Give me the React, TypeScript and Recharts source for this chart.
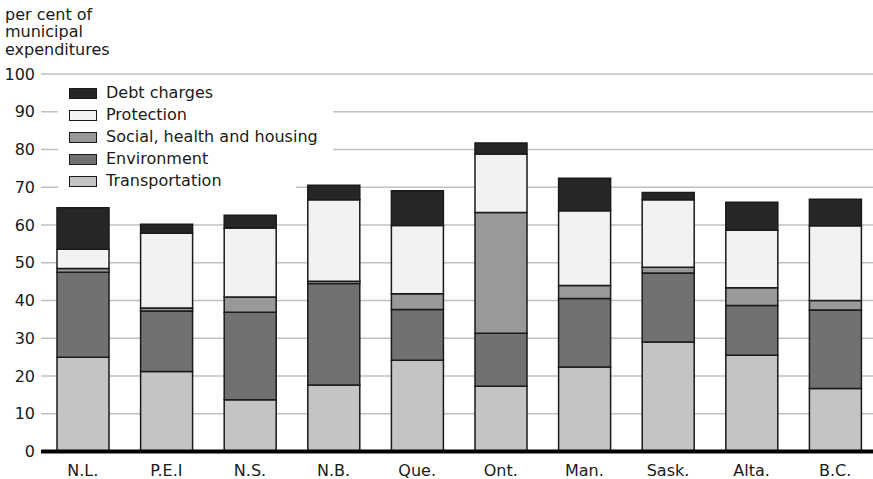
import React from 'react';
import { BarChart, Bar, XAxis, YAxis, CartesianGrid } from 'recharts';

const categories = ['N.L.', 'P.E.I', 'N.S.', 'N.B.', 'Que.', 'Ont.', 'Man.', 'Sask.', 'Alta.', 'B.C.'];
const transportation = [25.0, 21.2, 13.7, 17.6, 24.2, 17.3, 22.4, 29.0, 25.5, 16.7];
const environment = [22.5, 16.0, 23.2, 26.9, 13.4, 14.0, 18.1, 18.3, 13.2, 20.8];
const social = [1.0, 0.8, 4.0, 0.6, 4.2, 32.0, 3.5, 1.5, 4.7, 2.5];
const protection = [5.1, 19.8, 18.3, 21.6, 18.1, 15.5, 19.8, 17.9, 15.2, 19.8];
const debt = [11.0, 2.4, 3.4, 3.8, 9.2, 2.9, 8.6, 1.9, 7.4, 7.0];
const yTicks = [0, 10, 20, 30, 40, 50, 60, 70, 80, 90, 100];
const titleLines = ['per cent of', 'municipal', 'expenditures'];

const series = [
  { key: 'transportation', name: 'Transportation', color: '#c4c4c4' },
  { key: 'environment', name: 'Environment', color: '#717171' },
  { key: 'social', name: 'Social, health and housing', color: '#999999' },
  { key: 'protection', name: 'Protection', color: '#f2f2f2' },
  { key: 'debt', name: 'Debt charges', color: '#262626' },
];

const data = categories.map((c, i) => ({
  name: c,
  transportation: transportation[i],
  environment: environment[i],
  social: social[i],
  protection: protection[i],
  debt: debt[i],
}));

const FONT = "'DejaVu Sans', sans-serif";
const INK = '#1a1a1a';

export default function App() {
  const legendItems = [...series].reverse();
  return (
    <div style={{ position: 'absolute', left: 0, top: 0, width: 873, height: 479, overflow: 'hidden', background: '#fff' }}>
      <BarChart
        width={880}
        height={479}
        data={data}
        margin={{ top: 74, right: 3, left: 0, bottom: 0 }}
        barSize={52}
      >
        <CartesianGrid vertical={false} stroke="#c0c0c0" strokeWidth={1.5} />
        <YAxis
          width={41}
          domain={[0, 100]}
          ticks={yTicks}
          axisLine={false}
          tickLine={false}
          tickMargin={0}
          tick={{ fontFamily: FONT, fontSize: 16, fill: INK }}
          interval={0}
        />
        <XAxis
          dataKey="name"
          height={27.5}
          axisLine={{ stroke: '#000', strokeWidth: 4 }}
          tickLine={false}
          tickMargin={7}
          tick={{ fontFamily: FONT, fontSize: 16, fill: INK }}
          interval={0}
        />
        {series.map((s) => (
          <Bar
            key={s.key}
            dataKey={s.key}
            name={s.name}
            stackId="a"
            fill={s.color}
            stroke={INK}
            strokeWidth={1.5}
            isAnimationActive={false}
          />
        ))}
      </BarChart>
      <div style={{ position: 'absolute', left: 5, top: 5.5, fontFamily: FONT, fontSize: 16, lineHeight: '17.5px', color: INK }}>
        {titleLines.map((t) => (
          <div key={t}>{t}</div>
        ))}
      </div>
      <div style={{ position: 'absolute', left: 58, top: 82, fontFamily: FONT, fontSize: 16, color: INK }}>
        {legendItems.map((s, i) => (
          <div
            key={s.key}
            style={{
              display: 'flex',
              alignItems: 'center',
              height: 22,
              width: i === legendItems.length - 1 ? 238 : 275,
              background: '#fff',
            }}
          >
            <div
              style={{
                marginLeft: 11,
                width: 26,
                height: 9,
                background: s.color,
                border: `1.5px solid ${INK}`,
              }}
            />
            <span style={{ marginLeft: 9, whiteSpace: 'nowrap', lineHeight: '22px' }}>{s.name}</span>
          </div>
        ))}
      </div>
    </div>
  );
}
